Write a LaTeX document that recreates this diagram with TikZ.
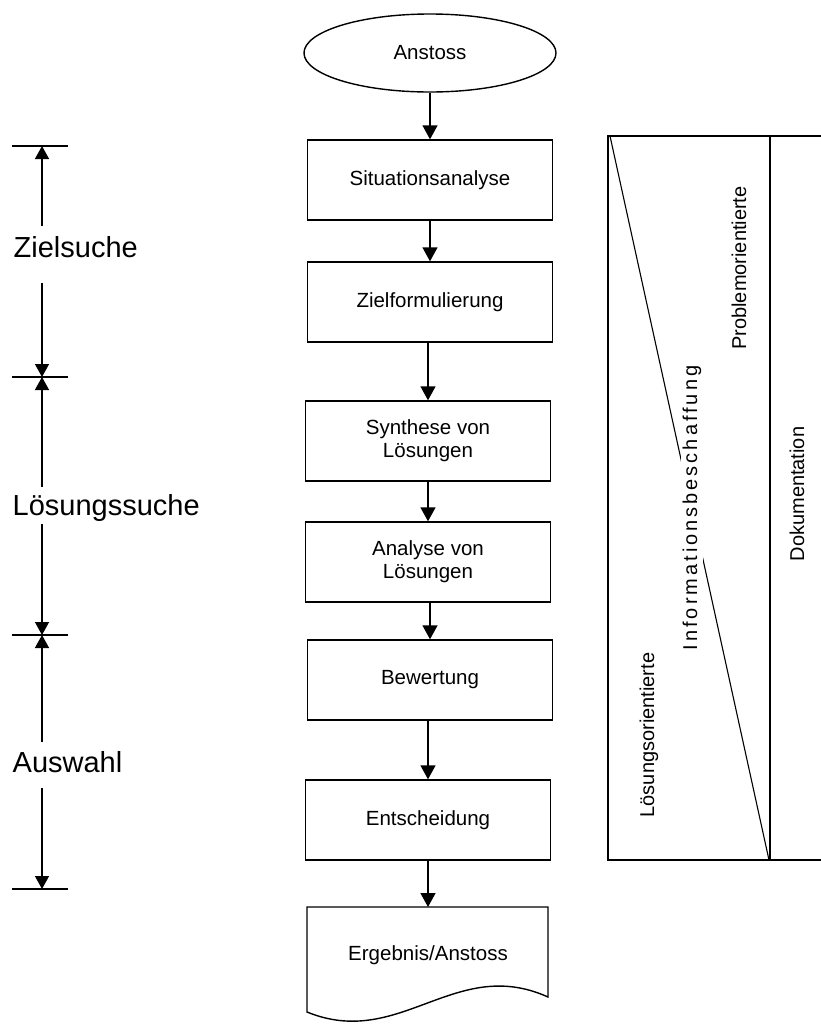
\documentclass[tikz,border=0pt]{standalone}
\usepackage{fontspec}
\setmainfont{Liberation Sans}
\newfontfamily\spacedfont[LetterSpace=15]{Liberation Sans}
\usetikzlibrary{arrows.meta,shapes.geometric}
\begin{document}
\begin{tikzpicture}[x=1pt,y=-1pt, line width=1.4pt,
 box/.style={draw, minimum width=245pt, minimum height=80pt, align=center, font=\fontsize{20.5}{23}\selectfont, inner sep=0pt},
 flow/.style={-{Triangle[length=14pt,width=15pt]}},
 dim/.style={-{Triangle[length=13pt,width=14pt]}},
 phase/.style={font=\fontsize{29}{32}\selectfont, anchor=base west, inner sep=0pt},
 vert/.style={rotate=90, font=\fontsize{20}{22}\selectfont, inner sep=0pt}]
\useasboundingbox (0,0) rectangle (821,1026);

% flowchart
\node[draw, ellipse, minimum width=252pt, minimum height=78pt, inner sep=0pt, font=\fontsize{20.5}{23}\selectfont] (start) at (430,53) {Anstoss};
\node[box] (s1) at (430,180) {Situationsanalyse};
\node[box] (s2) at (430,302) {Zielformulierung};
\node[box] (s3) at (428,441) {Synthese von\\L\"osungen};
\node[box] (s4) at (428,562) {Analyse von\\L\"osungen};
\node[box] (s5) at (430,680) {Bewertung};
\node[box] (s6) at (428,820) {Entscheidung};
\node[font=\fontsize{20.5}{23}\selectfont, inner sep=0pt] (doc) at (428,955) {Ergebnis/Anstoss};
\coordinate (doctop) at (428,907);
\draw (307,907) -- (548,907) -- (548,997)
  .. controls (455,955) and (400,1050) .. (307,1012) -- cycle;

\draw[flow] (start.south -| s1.north) -- (s1.north);
\draw[flow] (s1.south) -- (s1.south |- s2.north);
\draw[flow] (s2.south -| s3.north) -- (s3.north);
\draw[flow] (s3.south) -- (s4.north);
\draw[flow] (s4.south -| s5.north) -- (s5.north);
\draw[flow] (s5.south -| s6.north) -- (s6.north);
\draw[flow] (s6.south) -- (doctop);

% phases on the left
\coordinate (t1) at (42,146);
\coordinate (t2) at (42,377);
\coordinate (t3) at (42,635);
\coordinate (t4) at (42,889);
\foreach \t in {t1,t2,t3,t4} \draw ([xshift=-30pt]\t) -- ([xshift=26pt]\t);
\coordinate (g1a) at (42,226); \coordinate (g1b) at (42,283);
\coordinate (g2a) at (42,487); \coordinate (g2b) at (42,524);
\coordinate (g3a) at (42,742); \coordinate (g3b) at (42,788);
\draw[dim] (g1a) -- (t1);
\draw[dim] (g1b) -- (t2);
\draw[dim] (g2a) -- (t2);
\draw[dim] (g2b) -- (t3);
\draw[dim] (g3a) -- (t3);
\draw[dim] (g3b) -- (t4);
\node[phase] (p1) at (13,257) {Zielsuche};
\node[phase] (p2) at (12,515) {L\"osungssuche};
\node[phase] (p3) at (12,772) {Auswahl};

% right panel
\draw (821,136) -- (608,136) -- (608,860) -- (821,860);
\draw (770,136) -- (770,860);
\draw[line width=1.1pt] (610,136) -- (769,860);
\node[vert] (po) at (739,268) {Problemorientierte};
\node[vert] (lo) at (649,735) {L\"osungsorientierte};
\node[vert] (dk) at (797,494) {Dokumentation};
\node[vert, fill=white, inner sep=2pt, font=\fontsize{20}{22}\spacedfont] (ib) at (692,508) {Informationsbeschaffung};
\end{tikzpicture}
\end{document}
